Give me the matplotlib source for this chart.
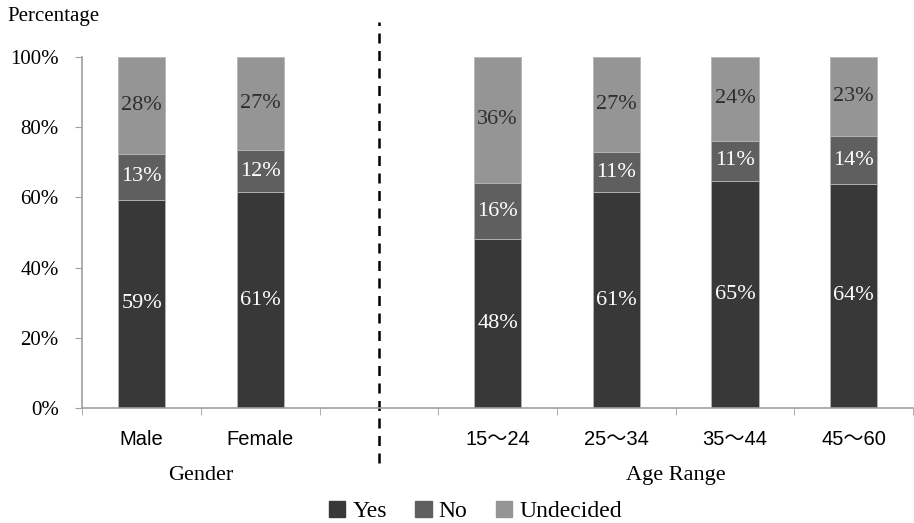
import matplotlib
matplotlib.use('Agg')
import matplotlib.pyplot as plt
from matplotlib.patches import Patch
import numpy as np

categories = ['Male', 'Female', '', '15～24', '25～34', '35～44', '45～60']
# shares in percent, each column adds up to 100 (labels show rounded values)
yes = [59.3, 61.4, None, 48.1, 61.4, 64.7, 63.8]
no = [13.1, 12.0, None, 16.0, 11.4, 11.4, 13.6]
undecided = [27.6, 26.6, None, 35.9, 27.2, 23.9, 22.6]
group_names = ['Gender', 'Age Range']
group_centers = [0.5, 4.5]
series_names = ['Yes', 'No', 'Undecided']

colors = ['#383838', '#5f5f5f', '#959595']
label_colors = ['white', 'white', '#2e2e2e']
serif = 'Liberation Serif'
sans = ['Liberation Sans', 'Noto Sans CJK JP']

fig = plt.figure(figsize=(9.14, 5.23), dpi=100)
ax = fig.add_axes([0.09, 0.22, 0.909, 0.671])

x = np.arange(len(categories))
bottom = np.zeros(len(categories))
for name, vals, col, tcol in zip(series_names, [yes, no, undecided], colors, label_colors):
    idx = [i for i, v in enumerate(vals) if v is not None]
    h = np.array([vals[i] for i in idx], dtype=float)
    b = bottom[idx]
    ax.bar(x[idx], h, bottom=b, width=0.4, color=col, edgecolor='#b5b5b5',
           linewidth=0.6, label=name)
    for xi, hi, bi in zip(x[idx], h, b):
        ax.text(xi, bi + hi / 2, '%.0f%%' % hi, ha='center', va='center',
                color=tcol, fontsize=16, family=serif)
    bottom[idx] += h

ax.set_xlim(-0.5, len(categories) - 0.5)
ax.set_ylim(0, 100)
ax.set_yticks(np.arange(0, 101, 20))
ax.set_yticklabels(['%d%%' % v for v in range(0, 101, 20)], family=serif, fontsize=15)
ax.set_xticks(x)
ax.set_xticklabels(categories, family=sans, fontsize=14.5)
ax.set_xticks(np.arange(-0.5, len(categories)), minor=True)
ax.tick_params(axis='x', which='major', length=0, pad=16)
ax.tick_params(axis='x', which='minor', length=5, color='#a0a0a0')
ax.tick_params(axis='y', length=5, color='#a0a0a0', pad=12)
for s in ['top', 'right']:
    ax.spines[s].set_visible(False)
for s in ['left', 'bottom']:
    ax.spines[s].set_color('#a0a0a0')
    ax.spines[s].set_linewidth(1.2)

# divider between the two groups
ax.plot([2, 2], [-15.7, 110], color='black', linestyle=(0, (4, 3)),
        linewidth=1.8, clip_on=False)

for name, cx in zip(group_names, group_centers):
    ax.text(cx, -19.2, name, ha='center', va='center', fontsize=16,
            family=serif, transform=ax.transData, clip_on=False)

fig.text(0.008, 0.968, 'Percentage', ha='left', va='center', fontsize=15, family=serif)

handles = [Patch(color=c) for c in colors]
fig.legend(handles, series_names, loc='center', bbox_to_anchor=(0.52, 0.022),
           ncol=3, frameon=False, prop={'family': serif, 'size': 17},
           handlelength=0.7, handleheight=0.7, handletextpad=0.3, columnspacing=1.2,
           borderpad=0)

fig.savefig('out.png', dpi=100)
